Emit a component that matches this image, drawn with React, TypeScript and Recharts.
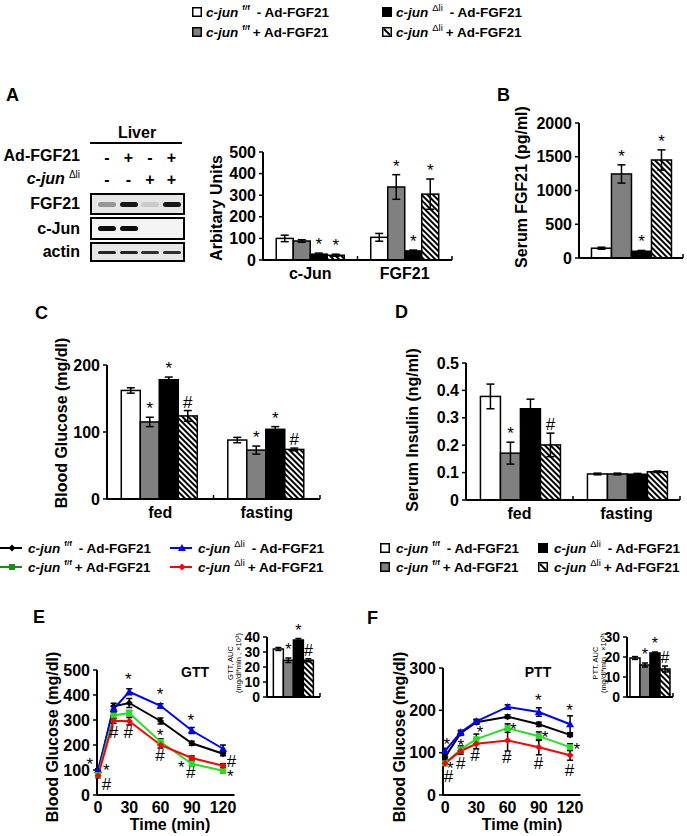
import React from "react";
import { BarChart, Bar, XAxis, YAxis, ErrorBar, ComposedChart, Line, ReferenceDot } from "recharts";

const FONT = '"Liberation Sans", Arial, Helvetica, sans-serif';
const AXIS = { stroke: "#000", strokeWidth: 2 };
const TICKLINE = { stroke: "#000", strokeWidth: 1.5 };
const GROUP_FILL = ["#ffffff", "#808080", "#000000", "hatch"];

// A - blot quantification
const aCats = ["c-Jun", "FGF21"];
const aMean = [[100, 88, 27, 22], [105, 338, 42, 305]];
const aErr = [[15, 6, 5, 5], [18, 57, 4, 70]];
const aSig = [["", "", "*", "*"], ["", "*", "*", "*"]];
const aTicks = [0, 100, 200, 300, 400, 500];

// B - serum FGF21
const bCats = [""];
const bMean = [[145, 1245, 100, 1452]];
const bErr = [[15, 135, 12, 150]];
const bSig = [["", "*", "*", "*"]];
const bTicks = [0, 500, 1000, 1500, 2000];

// C - blood glucose
const cCats = ["fed", "fasting"];
const cMean = [[162, 115, 178, 124], [88, 73, 104, 74]];
const cErr = [[4, 7, 4, 8], [4, 6, 4, 2]];
const cSig = [["", "*", "*", "#"], ["", "*", "*", "#"]];
const cTicks = [0, 100, 200];

// D - serum insulin
const dCats = ["fed", "fasting"];
const dMean = [[0.378, 0.171, 0.333, 0.201], [0.095, 0.095, 0.094, 0.103]];
const dErr = [[0.045, 0.04, 0.035, 0.043], [0.003, 0.003, 0.003, 0.003]];
const dSig = [["", "*", "", "#"], ["", "", "", ""]];
const dTicks = [0, 0.1, 0.2, 0.3, 0.4, 0.5];

// E - GTT
const times = [0, 15, 30, 60, 90, 120];
const eBlack = [90, 355, 368, 296, 207, 165];
const eBlackErr = [8, 12, 18, 12, 8, 8];
const eBlue = [100, 345, 413, 357, 258, 185];
const eBlueErr = [5, 10, 12, 8, 12, 15];
const eGreen = [80, 318, 328, 213, 125, 97];
const eGreenErr = [5, 12, 10, 12, 8, 8];
const eRed = [77, 297, 295, 200, 148, 117];
const eRedErr = [8, 10, 15, 12, 8, 8];
const eTicks = [0, 100, 200, 300, 400, 500];
const eMarks: [number, number, string][] = [
  [-8, 140, "*"], [8, 116, "*"], [8, 46, "#"], [15, 253, "#"], [29, 253, "#"], [29, 480, "*"],
  [59.5, 420, "*"], [59.5, 253, "*"], [59.5, 160, "#"], [89, 313, "*"], [80, 127, "*"], [89, 93, "#"],
  [128, 135, "#"], [127, 90, "*"],
];
const eAuc = [[32, 24.5, 38, 24.5]];
const eAucErr = [[1, 1.5, 1, 1]];
const eAucSig = [["", "*", "*", "#"]];
const eAucTicks = [0, 10, 20, 30, 40];

// F - PTT
const fBlack = [90, 146, 172, 185, 167, 142];
const fBlackErr = [5, 5, 5, 4, 5, 4];
const fBlue = [104, 148, 174, 208, 196, 167];
const fBlueErr = [6, 5, 5, 5, 10, 20];
const fGreen = [75, 108, 132, 158, 139, 113];
const fGreenErr = [5, 8, 12, 10, 10, 8];
const fRed = [75, 104, 121, 129, 113, 94];
const fRedErr = [5, 8, 12, 25, 18, 12];
const fTicks = [0, 100, 200, 300];
const fMarks: [number, number, string][] = [
  [1.6, 128, "*"], [5, 73, "*"], [3.2, 45, "#"], [15, 126, "*"], [15, 75, "#"], [33.6, 157, "*"],
  [28.8, 94, "#"], [65.6, 165, "*"], [59.2, 90, "#"], [89.6, 232, "*"], [96, 146, "*"], [89.6, 75, "#"],
  [119.4, 209, "*"], [126.4, 118, "*"], [119.4, 59, "#"],
];
const fAuc = [[19.5, 16, 22, 14]];
const fAucErr = [[0.7, 1, 0.5, 1.5]];
const fAucSig = [["", "*", "*", "#"]];
const fAucTicks = [0, 10, 20, 30];

// blot
const adSigns = ["-", "+", "-", "+"];
const junSigns = ["-", "-", "+", "+"];
const blotRows = ["FGF21", "c-Jun", "actin"];
const blotBands = [[0.35, 0.9, 0.12, 0.9], [0.95, 0.95, 0, 0], [0.85, 0.85, 0.8, 0.8]];

const sigBase = (s: string, fs: number) => (s === "*" ? 0.56 : 0.36) * fs;

const makeBarShape = (k: number, fs: number) => (p: any) => {
  const { x, y, width, height, fill, payload } = p;
  const v = payload[`v${k}`];
  const e = payload[`e${k}`];
  const s = payload[`s${k}`];
  const top = v ? y - (e * height) / v : y;
  return (
    <g>
      <rect x={x} y={y} width={width} height={height} fill={fill} stroke="#000" strokeWidth={1.5} />
      {s ? (
        <text x={x + width / 2} y={top - 3} textAnchor="middle" fontSize={fs} fontFamily={FONT} fill="#000">
          {s}
        </text>
      ) : null}
    </g>
  );
};

const makeCatTick = (bw: number, show: boolean) => (p: any) => {
  const { x, y, payload } = p;
  return (
    <g>
      <line x1={x + bw / 2} x2={x + bw / 2} y1={y} y2={y - 4} stroke="#000" strokeWidth={1.5} />
      {show && (
        <text x={x} y={y + 19} textAnchor="middle" fontSize={16} fontWeight="bold" fontFamily={FONT} fill="#000">
          {payload.value}
        </text>
      )}
    </g>
  );
};

function BarPanel(props: any) {
  const { id, left, top, width, height, yWidth, mTop, mRight, xH, cats, mean, err, sig, ticks, fmt, gap, showCats, tickFs, sigFs, capW } = props;
  const data = cats.map((c: string, i: number) => {
    const row: any = { cat: c };
    mean[i].forEach((v: number, k: number) => {
      row[`v${k}`] = v;
      row[`e${k}`] = err[i][k];
      row[`s${k}`] = sig[i][k];
    });
    return row;
  });
  const bw = (width - yWidth - mRight) / cats.length;
  const hatchId = `hatch-${id}`;
  return (
    <div style={{ position: "absolute", left, top }}>
      <BarChart width={width} height={height} data={data} margin={{ top: mTop, right: mRight, bottom: 0, left: 0 }} barCategoryGap={gap} barGap={0}>
        <defs>
          <pattern id={hatchId} width={4} height={4} patternUnits="userSpaceOnUse" patternTransform="rotate(-45)">
            <rect width={4} height={4} fill="#fff" />
            <line x1={2} y1={0} x2={2} y2={4} stroke="#000" strokeWidth={2} />
          </pattern>
        </defs>
        <XAxis dataKey="cat" height={xH} tickSize={0} tickMargin={0} axisLine={AXIS} tickLine={false} interval={0} tick={makeCatTick(bw, showCats)} />
        <YAxis
          type="number"
          domain={[0, ticks[ticks.length - 1]]}
          ticks={ticks}
          interval={0}
          width={yWidth}
          tickSize={4}
          tickMargin={3}
          axisLine={AXIS}
          tickLine={TICKLINE}
          tickFormatter={fmt}
          tick={{ fill: "#000", fontSize: tickFs, fontWeight: "bold", fontFamily: FONT }}
        />
        {[0, 1, 2, 3].map((k) => (
          <Bar
            key={k}
            dataKey={`v${k}`}
            fill={GROUP_FILL[k] === "hatch" ? `url(#${hatchId})` : GROUP_FILL[k]}
            isAnimationActive={false}
            shape={makeBarShape(k, sigFs)}
          >
            <ErrorBar dataKey={`e${k}`} width={capW} stroke="#000" strokeWidth={1.5} direction="y" />
          </Bar>
        ))}
      </BarChart>
    </div>
  );
}

const dotShape = (kind: string, color: string) => (p: any) => {
  const { cx, cy, index } = p;
  if (cx == null || cy == null) return <g key={`n${index}`} />;
  if (kind === "tri") return <path key={`d${index}`} d={`M${cx},${cy - 4}L${cx + 4},${cy + 3}L${cx - 4},${cy + 3}Z`} fill={color} />;
  if (kind === "square") return <rect key={`d${index}`} x={cx - 3} y={cy - 3} width={6} height={6} fill={color} />;
  return <path key={`d${index}`} d={`M${cx},${cy - 3.5}L${cx + 3.5},${cy}L${cx},${cy + 3.5}L${cx - 3.5},${cy}Z`} fill={color} />;
};

const LINE_STYLE = [
  { key: "k", color: "#000000", dot: "diamond" },
  { key: "b", color: "#0000ff", dot: "tri" },
  { key: "g", color: "#22e022", dot: "square" },
  { key: "r", color: "#ff0000", dot: "diamond" },
];

function LinePanel(props: any) {
  const { left, top, width, height, domainX, yTicks, vals, errs, marks } = props;
  const data = times.map((t, i) => {
    const row: any = { t };
    LINE_STYLE.forEach((s, k) => {
      row[s.key] = vals[k][i];
      row[`${s.key}E`] = errs[k][i];
    });
    return row;
  });
  return (
    <div style={{ position: "absolute", left, top }}>
      <ComposedChart width={width} height={height} data={data} margin={{ top: 10, right: 5.5, bottom: 0, left: 0 }}>
        <XAxis
          dataKey="t"
          type="number"
          domain={domainX}
          ticks={[0, 30, 60, 90, 120]}
          interval={0}
          height={25}
          tickSize={0}
          tickMargin={7}
          tickLine={false}
          axisLine={AXIS}
          tick={{ fill: "#000", fontSize: 16, fontWeight: "bold", fontFamily: FONT }}
        />
        <YAxis
          type="number"
          domain={[0, yTicks[yTicks.length - 1]]}
          ticks={yTicks}
          interval={0}
          width={57}
          tickSize={4}
          tickMargin={3}
          axisLine={AXIS}
          tickLine={TICKLINE}
          tick={{ fill: "#000", fontSize: 16, fontWeight: "bold", fontFamily: FONT }}
        />
        {LINE_STYLE.map((s) => (
          <Line key={s.key} dataKey={s.key} stroke={s.color} strokeWidth={2} dot={dotShape(s.dot, s.color)} activeDot={false} isAnimationActive={false}>
            <ErrorBar dataKey={`${s.key}E`} width={3} stroke="#000" strokeWidth={1.5} direction="y" />
          </Line>
        ))}
        {marks.map((m: [number, number, string], i: number) => (
          <ReferenceDot
            key={i}
            x={m[0]}
            y={m[1]}
            r={1}
            ifOverflow="visible"
            shape={(p: any) => (
              <text x={p.cx} y={p.cy + sigBase(m[2], 17)} textAnchor="middle" fontSize={17} fontFamily={FONT} fill="#000">
                {m[2]}
              </text>
            )}
          />
        ))}
      </ComposedChart>
    </div>
  );
}

function VLabel({ cx, cy, text, fs = 16, bold = true }: any) {
  return (
    <div
      style={{
        position: "absolute",
        left: cx,
        top: cy,
        transform: "translate(-50%, -50%) rotate(-90deg)",
        whiteSpace: "nowrap",
        fontSize: fs,
        fontWeight: bold ? "bold" : "normal",
        lineHeight: 1.1,
        textAlign: "center",
      }}
    >
      {text}
    </div>
  );
}

function Txt({ cx, cy, text, fs = 16, anchor = "center", italic = false }: any) {
  const tx = anchor === "center" ? "-50%" : anchor === "right" ? "-100%" : "0";
  return (
    <div
      style={{
        position: "absolute",
        left: cx,
        top: cy,
        transform: `translate(${tx}, -50%)`,
        whiteSpace: "nowrap",
        fontSize: fs,
        fontWeight: "bold",
        fontStyle: italic ? "italic" : "normal",
        lineHeight: 1,
      }}
    >
      {text}
    </div>
  );
}

function BoxIcon({ k }: { k: number }) {
  return (
    <svg width={10} height={10} style={{ display: "block" }}>
      <rect x={0.75} y={0.75} width={8.5} height={8.5} fill={k === 3 ? "#fff" : GROUP_FILL[k]} stroke="#000" strokeWidth={1.5} />
      {k === 3 && <line x1={2} y1={2} x2={8} y2={8} stroke="#000" strokeWidth={2} />}
    </svg>
  );
}

function LineIcon({ k, color }: { k: number; color: string }) {
  const s = LINE_STYLE[k];
  return (
    <svg width={22} height={10} style={{ display: "block" }}>
      <line x1={0} y1={5} x2={22} y2={5} stroke={color} strokeWidth={2} />
      {dotShape(s.dot, color)({ cx: 12, cy: 5, index: 0 })}
    </svg>
  );
}

function Entry({ left, cy, icon, sup, plus, gap = 4 }: any) {
  return (
    <div
      style={{
        position: "absolute",
        left,
        top: cy - 8,
        height: 16,
        display: "flex",
        alignItems: "center",
        fontSize: 13.5,
        fontWeight: "bold",
        whiteSpace: "nowrap",
      }}
    >
      {icon}
      <span style={{ marginLeft: gap, fontStyle: "italic" }}>c-jun</span>
      <span
        style={{
          fontSize: sup === "f/f" ? 8 : 9.5,
          fontWeight: sup === "f/f" ? "bold" : "normal",
          position: "relative",
          top: -5,
          marginLeft: 4,
        }}
      >
        {sup}
      </span>
      <span style={{ marginLeft: plus ? 3 : 7 }}>{plus ? "+" : "-"} Ad-FGF21</span>
    </div>
  );
}

const SUPS = ["f/f", "f/f", "Δli", "Δli"];
const PLUS = [false, true, false, true];
const LEGEND_LINE_COLORS = ["#000000", "#1a8a1a", "#0000ff", "#ff0000"];

function Blot() {
  const laneX = (i: number) => 107 + i * 21.5;
  const rowTop = [193, 217, 242];
  const rowH = [22, 23, 20];
  return (
    <>
      <Txt cx={137} cy={133} text="Liver" />
      <div style={{ position: "absolute", left: 90, top: 142, width: 92, height: 1.5, background: "#000" }} />
      <Txt cx={80} cy={156} text="Ad-FGF21" anchor="right" />
      <div style={{ position: "absolute", left: 80, top: 179, transform: "translate(-100%, -50%)", fontSize: 16, fontWeight: "bold", whiteSpace: "nowrap", lineHeight: 1 }}>
        <i>c-jun</i>
        <span style={{ fontSize: 10, fontWeight: "normal", position: "relative", top: -6, marginLeft: 4 }}>Δli</span>
      </div>
      {adSigns.map((s, i) => (
        <Txt key={`a${i}`} cx={laneX(i)} cy={158} text={s} />
      ))}
      {junSigns.map((s, i) => (
        <Txt key={`j${i}`} cx={laneX(i)} cy={180} text={s} />
      ))}
      {blotRows.map((r, ri) => (
        <React.Fragment key={r}>
          <Txt cx={80} cy={rowTop[ri] + rowH[ri] / 2} text={r} anchor="right" />
          <div
            style={{
              position: "absolute",
              left: 90,
              top: rowTop[ri],
              width: 95,
              height: rowH[ri],
              boxSizing: "border-box",
              border: "2px solid #000",
              background: ri === 1 ? "#f4f4f4" : "#e6e6e6",
            }}
          />
          {blotBands[ri].map((a, li) =>
            a > 0 ? (
              <div
                key={li}
                style={{
                  position: "absolute",
                  left: laneX(li) - 9,
                  top: rowTop[ri] + rowH[ri] / 2 - (ri === 2 ? 1.5 : 2.5),
                  width: 18,
                  height: ri === 2 ? 3 : 5,
                  borderRadius: 3,
                  background: `rgba(0,0,0,${a})`,
                  filter: "blur(0.6px)",
                }}
              />
            ) : null
          )}
        </React.Fragment>
      ))}
    </>
  );
}

export default function App() {
  return (
    <div
      style={{
        position: "absolute",
        left: 0,
        top: 0,
        width: 687,
        height: 836,
        background: "#fff",
        fontFamily: FONT,
        color: "#000",
        overflow: "hidden",
      }}
    >
      {/* top legend */}
      {[0, 1, 2, 3].map((k) => (
        <Entry key={`tl${k}`} left={k < 2 ? 192 : 382} cy={k % 2 === 0 ? 12 : 32} icon={<BoxIcon k={k} />} sup={SUPS[k]} plus={PLUS[k]} />
      ))}

      {/* panel letters */}
      <Txt cx={6} cy={95} text="A" fs={18} anchor="left" />
      <Txt cx={497} cy={95} text="B" fs={18} anchor="left" />
      <Txt cx={35} cy={313} text="C" fs={18} anchor="left" />
      <Txt cx={395} cy={312} text="D" fs={18} anchor="left" />
      <Txt cx={33} cy={617} text="E" fs={18} anchor="left" />
      <Txt cx={367} cy={618} text="F" fs={18} anchor="left" />

      <Blot />

      <BarPanel id="a" left={200} top={140} width={260} height={150} yWidth={63} mTop={12} mRight={8} xH={30}
        cats={aCats} mean={aMean} err={aErr} sig={aSig} ticks={aTicks} gap="14%" showCats tickFs={16} sigFs={17} capW={4} />
      <VLabel cx={217} cy={208} text="Arbitary Units" />

      <BarPanel id="b" left={520} top={113} width={167} height={155} yWidth={59} mTop={10} mRight={4} xH={10}
        cats={bCats} mean={bMean} err={bErr} sig={bSig} ticks={bTicks} gap="12%" showCats={false} tickFs={16} sigFs={17} capW={4} />
      <VLabel cx={522} cy={187} text="Serum FGF21 (pg/ml)" />

      <BarPanel id="c" left={50} top={355} width={275} height={179} yWidth={57} mTop={10} mRight={5} xH={35}
        cats={cCats} mean={cMean} err={cErr} sig={cSig} ticks={cTicks} gap="13.4%" showCats tickFs={16} sigFs={17} capW={4} />
      <VLabel cx={62} cy={423} text="Blood Glucose (mg/dl)" />

      <BarPanel id="d" left={410} top={353} width={275} height={182} yWidth={56} mTop={10} mRight={5} xH={35}
        cats={dCats} mean={dMean} err={dErr} sig={dSig} ticks={dTicks} gap="13.5%" showCats tickFs={16} sigFs={17} capW={4}
        fmt={(v: number) => (v === 0 ? "0" : v.toFixed(1))} />
      <VLabel cx={413} cy={430} text="Serum Insulin (ng/ml)" />

      {/* middle legends */}
      {[0, 1, 2, 3].map((k) => (
        <Entry key={`ll${k}`} left={k < 2 ? 0 : 170} cy={k % 2 === 0 ? 548 : 567}
          icon={<LineIcon k={[0, 2, 1, 3][k]} color={LEGEND_LINE_COLORS[k]} />}
          sup={k < 2 ? "f/f" : "Δli"} plus={k % 2 === 1} gap={6} />
      ))}
      {[0, 1, 2, 3].map((k) => (
        <Entry key={`bl${k}`} left={k < 2 ? 380 : 538} cy={k % 2 === 0 ? 548 : 567} icon={<BoxIcon k={k} />} sup={SUPS[k]} plus={PLUS[k]} gap={6} />
      ))}

      {/* E */}
      <LinePanel left={40} top={660} width={200} height={160} domainX={[-1, 131]} yTicks={eTicks}
        vals={[eBlack, eBlue, eGreen, eRed]} errs={[eBlackErr, eBlueErr, eGreenErr, eRedErr]} marks={eMarks} />
      <VLabel cx={53} cy={737} text="Blood Glucose (mg/dl)" />
      <Txt cx={170} cy={825} text="Time (min)" />
      <Txt cx={195} cy={672} text="GTT" fs={14} />
      <BarPanel id="ea" left={240} top={617} width={85} height={92} yWidth={27} mTop={20} mRight={5} xH={12}
        cats={[""]} mean={eAuc} err={eAucErr} sig={eAucSig} ticks={eAucTicks} gap="12%" showCats={false} tickFs={14} sigFs={16} capW={3} />
      <VLabel cx={235} cy={663} fs={7.5} bold={false} text={<>GTT, AUC<br />(mg/dl*min , ×10³)</>} />

      {/* F */}
      <LinePanel left={386} top={658} width={200} height={162} domainX={[-2, 130]} yTicks={fTicks}
        vals={[fBlack, fBlue, fGreen, fRed]} errs={[fBlackErr, fBlueErr, fGreenErr, fRedErr]} marks={fMarks} />
      <VLabel cx={400} cy={737} text="Blood Glucose (mg/dl)" />
      <Txt cx={522} cy={825} text="Time (min)" />
      <Txt cx={538} cy={672} text="PTT" fs={14} />
      <BarPanel id="fa" left={600} top={617} width={78} height={92} yWidth={27} mTop={20} mRight={5} xH={12}
        cats={[""]} mean={fAuc} err={fAucErr} sig={fAucSig} ticks={fAucTicks} gap="6.5%" showCats={false} tickFs={14} sigFs={16} capW={3} />
      <VLabel cx={600} cy={663} fs={7.5} bold={false} text={<>PTT, AUC<br />(mg/dl*min , ×10³)</>} />
    </div>
  );
}
